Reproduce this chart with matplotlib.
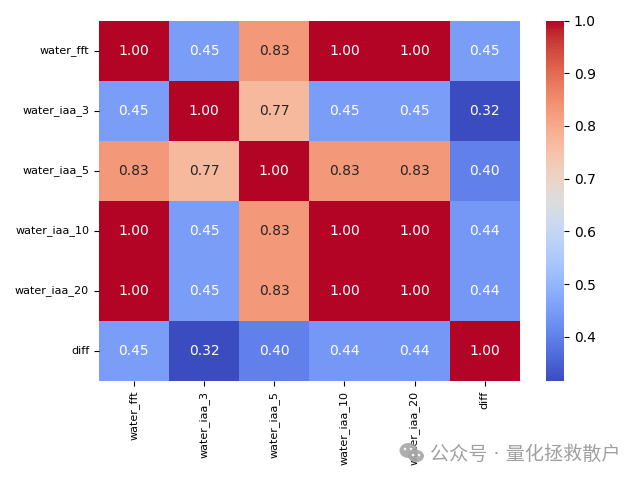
import numpy as np
import pandas as pd
import matplotlib
matplotlib.use('Agg')
import matplotlib.pyplot as plt
from matplotlib.patches import Ellipse
import seaborn as sns

labels = ['water_fft', 'water_iaa_3', 'water_iaa_5', 'water_iaa_10', 'water_iaa_20', 'diff']
corr = [
    [1.00, 0.45, 0.83, 1.00, 1.00, 0.45],
    [0.45, 1.00, 0.77, 0.45, 0.45, 0.316],
    [0.83, 0.77, 1.00, 0.83, 0.83, 0.40],
    [1.00, 0.45, 0.83, 1.00, 1.00, 0.44],
    [1.00, 0.45, 0.83, 1.00, 1.00, 0.44],
    [0.45, 0.316, 0.40, 0.44, 0.44, 1.00],
]
watermark = '公众号 · 量化拯救散户'

df = pd.DataFrame(corr, index=labels, columns=labels)

fig, ax = plt.subplots(figsize=(6.4, 4.8), dpi=100)
sns.heatmap(df, annot=True, fmt='.2f', cmap='coolwarm', ax=ax)
ax.tick_params(axis='x', labelsize=8, labelrotation=90)
ax.tick_params(axis='y', labelsize=8, labelrotation=0)
fig.tight_layout()

# watermark bottom right, with the chat bubble icon (sizes in pixels)
W, H = 640, 480
def bubble(cx, cy, w, h, color, alpha=1.0):
    fig.add_artist(Ellipse((cx / W, 1 - cy / H), w / W, h / H, transform=fig.transFigure,
                           facecolor=color, edgecolor='none', alpha=alpha))

grey = '#a6a6a6'
bubble(408.5, 450.5, 18, 15, grey, 0.9)
bubble(416, 456, 16, 12.5, grey, 0.9)
for cx, cy in [(405, 449), (411, 449), (413, 455), (419, 455)]:
    bubble(cx, cy, 2.6, 2.6, 'white', 0.9)

fig.text(430 / W, 1 - 454.5 / H, watermark, fontsize=13.75, color='#a0a0a0',
         family=['DejaVu Sans', 'Noto Sans CJK SC'], va='center')
fig.savefig('out.png', dpi=100)
